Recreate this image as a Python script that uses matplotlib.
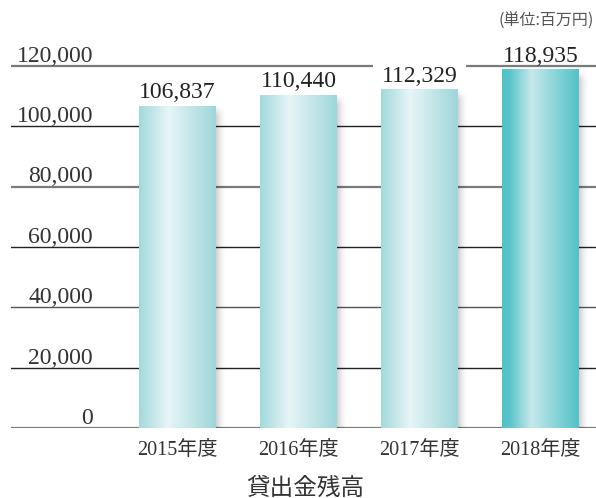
import numpy as np
import matplotlib
matplotlib.use("Agg")
import matplotlib.pyplot as plt
from matplotlib.colors import LinearSegmentedColormap
from matplotlib.patches import Rectangle
import matplotlib.transforms as mtransforms

categories = ["2015年度", "2016年度", "2017年度", "2018年度"]
values = [106837, 110440, 112329, 118935]
value_labels = ["106,837", "110,440", "112,329", "118,935"]
yticks = [0, 20000, 40000, 60000, 80000, 100000, 120000]
ytick_labels = ["0", "20,000", "40,000", "60,000", "80,000", "100,000", "120,000"]
title = "貸出金残高"
unit = "(単位:百万円)"

W, H = 596, 498
fig = plt.figure(figsize=(W / 100, H / 100), dpi=100)
ymax = 130000
px_per_unit = 362 / 120000
top_px = 428 - ymax * px_per_unit
ax = fig.add_axes([11 / W, (H - 428) / H, 585 / W, (428 - top_px) / H])
ax.set_ylim(0, ymax)
xl = -(177.5 - 11) / 121
xr = 3 + (596 - 540.5) / 121
ax.set_xlim(xl, xr)
for s in ax.spines.values():
    s.set_visible(False)
ax.set_yticks([])

num_font = "Liberation Serif"
mixed = ["Liberation Serif", "Noto Sans CJK JP"]

# gridlines
line_cols = {0: "#7a7a7a", 20000: "#222222", 40000: "#555555", 60000: "#222222",
             80000: "#7a7a7a", 100000: "#222222", 120000: "#7a7a7a"}
for yv in yticks:
    lw = 1.6 if line_cols[yv] == "#7a7a7a" else 1.0
    ax.axhline(yv, color=line_cols[yv], lw=lw, zorder=1)

# y tick labels above each line, right aligned
trans = mtransforms.blended_transform_factory(ax.transAxes, ax.transData)
trans = mtransforms.offset_copy(trans, fig=fig, x=0, y=3, units="points")
for yv, lab in zip(yticks, ytick_labels):
    ax.text((93 - 11) / 585, yv, lab, transform=trans, ha="right", va="baseline",
            fontsize=17, family=num_font, color="#333333")

x = np.arange(len(categories))
bw = 77 / 121

cm_light = LinearSegmentedColormap.from_list(
    "l", [(0, "#a2d9dc"), (0.38, "#e7f5f6"), (1.0, "#9ed6da")])
cm_dark = LinearSegmentedColormap.from_list(
    "d", [(0, "#50c2c7"), (0.1, "#5ac5ca"), (0.38, "#c6e8eb"), (1.0, "#51c2c7")])

grad = np.linspace(0, 1, 256).reshape(1, -1)

sh_w = 12 / 121
nx, ny = 40, 200
hx = np.linspace(0, 1, nx)
alpha_h = 0.22 * (1 - hx) ** 2
gap_px = 7.5
for i, (xi, v) in enumerate(zip(x, values)):
    x0 = xi - bw / 2
    top_fade_units = 10 / px_per_unit
    yy = np.linspace(v, 0, ny)
    alpha_v = np.clip((v - yy) / top_fade_units, 0, 1)
    A = alpha_v[:, None] * alpha_h[None, :]
    rgba = np.zeros((ny, nx, 4))
    rgba[..., 3] = A
    ax.imshow(rgba, aspect="auto", extent=(x0 + bw - 0.005, x0 + bw + sh_w, 0, v),
              zorder=2.5, interpolation="bilinear")

    rect = Rectangle((x0, 0), bw, v, facecolor="none", lw=0, zorder=3)
    ax.add_patch(rect)
    cmap = cm_dark if i == 3 else cm_light
    im = ax.imshow(grad, cmap=cmap, aspect="auto", extent=(x0, x0 + bw, 0, v),
                   zorder=3, interpolation="bilinear")
    im.set_clip_path(rect)

    base = v + gap_px / px_per_unit
    # white knock-out behind the value label (tight vertically, padded horizontally)
    ax.add_patch(Rectangle((xi - 93 / 121 / 2, base - 2 / px_per_unit), 93 / 121,
                           20 / px_per_unit, facecolor="white", lw=0, zorder=1.5))
    ax.text(xi, base, value_labels[i], ha="center", va="baseline", fontsize=17,
            family=num_font, color="#222222", zorder=2)

ax.set_xlim(xl, xr)
ax.set_ylim(0, ymax)
ax.set_xticks(x)
ax.set_xticklabels(categories, family=mixed, fontsize=14.5, color="#333333")
ax.tick_params(axis="x", length=0, pad=9)

fig.text(305 / W, (H - 488) / H, title, ha="center", va="center",
         family=["Noto Sans CJK JP"], fontsize=17, color="#333333")
fig.text(594 / W, (H - 21) / H, unit, ha="right", va="center",
         family=["Noto Sans CJK JP"], fontsize=11.5, color="#555555")

fig.savefig("out.png", dpi=100)
